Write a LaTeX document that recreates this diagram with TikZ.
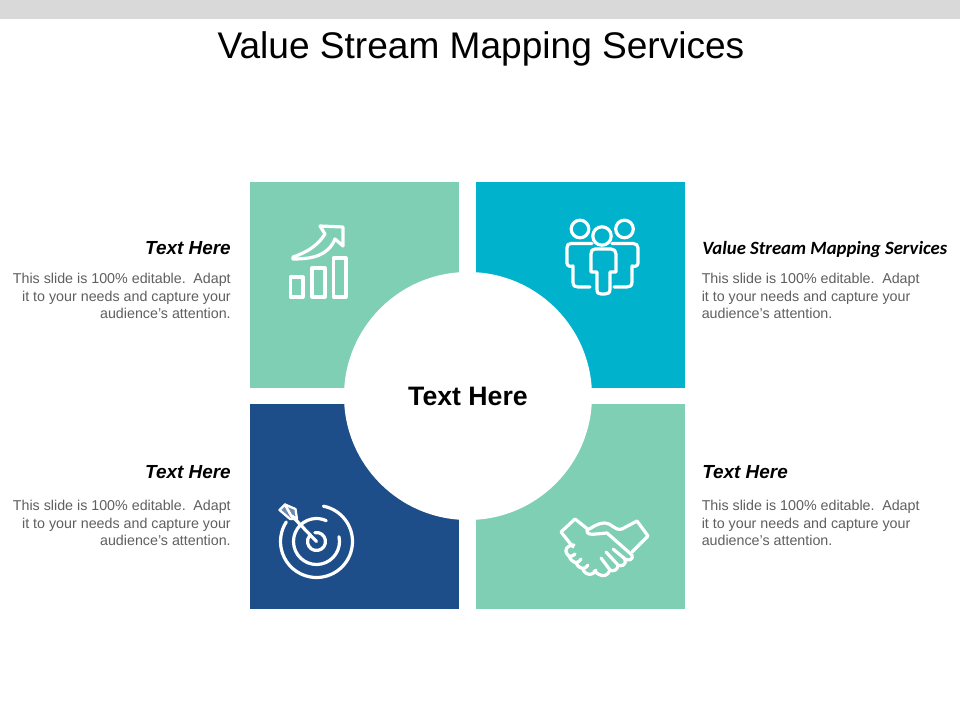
\documentclass[tikz,border=0pt]{standalone}
\usepackage{fontspec}
\setmainfont{Liberation Sans}
\newfontfamily\headfont{Carlito}
\definecolor{mint}{HTML}{7FCFB5}
\definecolor{cyanb}{HTML}{00B2CC}
\definecolor{navyb}{HTML}{1E4E89}
\definecolor{bodyg}{HTML}{5F5F5F}
\definecolor{barg}{HTML}{D9D9D9}
\tikzset{
  tile/.style={anchor=north west,inner sep=0pt,outer sep=0pt,minimum width=156.75pt},
  ico/.style={draw=white,line width=2.4pt,line join=round,line cap=round},
  bodyl/.style={font=\fontsize{10.7}{13.2}\selectfont,text=bodyg,align=left,anchor=north west,inner sep=0pt},
  bodyr/.style={font=\fontsize{10.7}{13.2}\selectfont,text=bodyg,align=right,anchor=north east,inner sep=0pt},
  headt/.style={font=\fontsize{14.2}{16}\selectfont\bfseries\itshape,text=black,inner sep=0pt},
  heads/.style={font=\headfont\fontsize{14.05}{16}\selectfont\bfseries\itshape,text=black,inner sep=0pt}
}
\begin{document}
\begin{tikzpicture}[x=0.75pt,y=-0.75pt]
\useasboundingbox (0,0) rectangle (960,720);
\fill[white] (0,0) rectangle (960,720);
\fill[barg] (0,0) rectangle (960,19);
\node[inner sep=0pt,font=\fontsize{27.8}{32}\selectfont] (title) at (481,49) {Value Stream Mapping Services};
\node[tile,fill=mint,minimum height=154.5pt] (tl) at (250,182) {};
\node[tile,fill=cyanb,minimum height=154.5pt] (tr) at (476,182) {};
\node[tile,fill=navyb,minimum height=153.75pt] (bl) at (250,404) {};
\node[tile,fill=mint,minimum height=153.75pt] (br) at (476,404) {};
\node[circle,fill=white,minimum size=186pt,inner sep=0pt] (hub) at (468,396) {};
\node[inner sep=0pt,font=\fontsize{20}{24}\selectfont\bfseries] (hubt) at (468,396) {Text Here};
\node[headt,anchor=east] (h1) at (231,248) {Text Here};
\node[bodyr] (b1) at (231,273) {This slide is 100\% editable. \,Adapt\\it to your needs and capture your\\audience's attention.};
\node[heads,anchor=west] (h2) at (702,250) {Value Stream Mapping Services};
\node[bodyl] (b2) at (701.5,273) {This slide is 100\% editable. \,Adapt\\it to your needs and capture your\\audience's attention.};
\node[headt,anchor=east] (h3) at (231,472) {Text Here};
\node[bodyr] (b3) at (231,500) {This slide is 100\% editable. \,Adapt\\it to your needs and capture your\\audience's attention.};
\node[headt,anchor=west] (h4) at (702,472) {Text Here};
\node[bodyl] (b4) at (701.5,500) {This slide is 100\% editable. \,Adapt\\it to your needs and capture your\\audience's attention.};
% chart icon
\draw[ico] (290.5,277) rectangle (303,297);
\draw[ico] (312,268) rectangle (325,297);
\draw[ico] (333.5,258) rectangle (346,297);
\draw[ico] (293,257) .. controls (308,252) and (318,245) .. (325,234) -- (320,226) -- (343,227) -- (343,246) -- (335,239)
  .. controls (328,256) and (312,259) .. (293,259) -- cycle;
% people icon
\draw[ico] (580,229) circle (8.8);
\draw[ico] (624.5,229) circle (8.8);
\draw[ico] (602,236) circle (9.2);
\draw[ico] (592,243.5) -- (571,243.5) .. controls (568,243.5) and (567,245) .. (567,248) -- (567,263) .. controls (567,266) and (570,267) .. (573,266) -- (573,282) .. controls (573,286) and (575,287) .. (578,287) -- (590,287);
\draw[ico] (612,243.5) -- (633,243.5) .. controls (636,243.5) and (638,245) .. (638,248) -- (638,263) .. controls (638,266) and (635,267) .. (632,266) -- (632,282) .. controls (632,286) and (630,287) .. (627,287) -- (614,287);
\draw[ico] (595,249) -- (611,249) .. controls (614,249) and (616,251) .. (616,254) -- (616,272) -- (610,272) -- (610,289) .. controls (610,293) and (608,294) .. (605,294) -- (601,294) .. controls (598,294) and (597,293) .. (597,289) -- (597,272) -- (591,272) -- (591,254) .. controls (591,251) and (592,249) .. (595,249) -- cycle;
% target icon
\coordinate (tc) at (316.5,541.5);
\draw[ico] (tc) ++(-100:9) arc[start angle=-100,end angle=220,radius=9];
\draw[ico] (tc) ++(-12:23) arc[start angle=-12,end angle=295,radius=23];
\draw[ico] (tc) ++(-79:36) arc[start angle=-79,end angle=213,radius=36];
\draw[ico] (tc) -- (292,516);
\draw[ico,line width=1.7pt,fill=white,fill opacity=0.35] (285,504.5) -- (295.5,509) -- (297,519) -- (291,515.5) -- cycle;
\draw[ico,line width=1.7pt,fill=white,fill opacity=0.35] (279.5,510) -- (290,519) -- (297,519) -- (291,515.5) -- (285,504.5) -- cycle;
% handshake icon
\draw[ico] (587,528.5) -- (575,519) -- (561,532) -- (573,547);
\draw[ico] (622,529) .. controls (614,531) and (612,523) .. (605,523) .. controls (597,523) and (592,528) .. (587,530) .. controls (586,534) and (591,535) .. (596,534) -- (607,533) -- (632,555) .. controls (634,560) and (628,561) .. (625,559) -- (613,549);
\draw[ico] (622,529) -- (637,521) -- (648,536) -- (632,552);
\draw[ico] (625,559) .. controls (627,565) and (621,567) .. (618,565) -- (606,552);
\draw[ico] (618,565) .. controls (618,570) and (613,572) .. (610,570) -- (601,558);
\draw[ico] (610,570) .. controls (608,576) and (603,577) .. (598,574) -- (594,571);
\draw[ico] (574,545) .. controls (567,545) and (564,550) .. (567,554) .. controls (569,557) and (572,557) .. (575,554);
\draw[ico] (569,556) .. controls (572,563) and (577,565) .. (581,559);
\draw[ico] (576,563) .. controls (580,570) and (585,570) .. (588,565);
\draw[ico] (583,570) .. controls (587,576) and (593,576) .. (596,570);
\end{tikzpicture}
\end{document}
